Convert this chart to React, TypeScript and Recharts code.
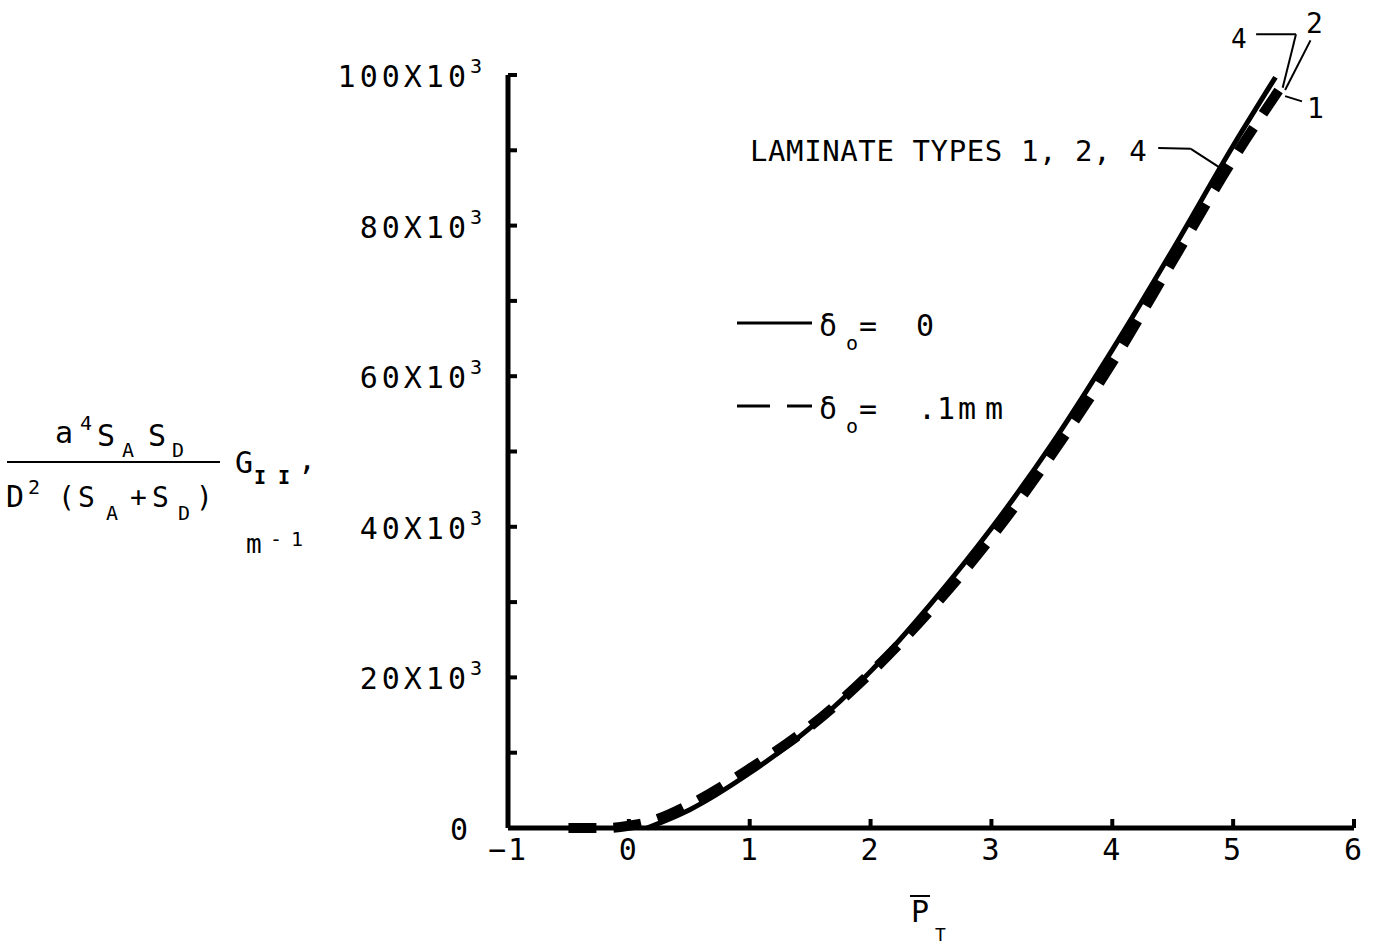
import { ComposedChart, Line, XAxis, YAxis, ReferenceLine } from "recharts";

// solid curve (delta_o = 0), laminate types 1, 2, 4
const solidX = [0.15, 0.5, 1, 1.5, 2, 2.5, 3, 3.5, 4, 4.5, 5, 5.35];
const solidY = [0, 2400, 7300, 13300, 20800, 29800, 39800, 51000, 63500, 76800, 90600, 99700];

// dashed curve (delta_o = .1mm)
const dashedX = [-0.5, -0.2, 0, 0.2, 0.5, 1, 1.5, 2, 2.5, 3, 3.5, 4, 4.5, 5, 5.4];
const dashedY = [0, 0, 300, 1000, 3100, 7900, 13500, 20600, 29000, 38600, 49600, 61800, 75300, 88800, 98500];

const xTicks = [-1, 0, 1, 2, 3, 4, 5, 6];
const yTicks = [0, 10000, 20000, 30000, 40000, 50000, 60000, 70000, 80000, 90000, 100000];
const yLabelTicks = [0, 20000, 40000, 60000, 80000, 100000];

// leader lines for the curve labels: [x1, y1, x2, y2]
const leaders = [
  [4.38, 90300, 4.65, 90200],
  [4.65, 90200, 4.88, 87800],
  [5.19, 105400, 5.52, 105400],
  [5.52, 105400, 5.41, 98300],
  [5.64, 104600, 5.43, 98000],
  [5.43, 97200, 5.57, 96500],
];

const solidData = solidX.map((x, i) => ({ x, y: solidY[i] }));
const dashedData = dashedX.map((x, i) => ({ x, y: dashedY[i] }));

const FONT = "DejaVu Sans Mono";

const YTick = (props: any) => {
  const { x, y, payload } = props;
  const v = payload.value;
  return (
    <g>
      <line x1={x} x2={x + 9} y1={y} y2={y} stroke="#000" strokeWidth={4} />
      {yLabelTicks.includes(v) &&
        (v === 0 ? (
          <text x={x - 40} y={y + 12} textAnchor="end" fontFamily={FONT} fontSize={30} fill="#000">
            0
          </text>
        ) : (
          <text x={x - 22} y={y + 12} textAnchor="end" fontFamily={FONT} fontSize={30} letterSpacing={4} fill="#000">
            {`${v / 1000}X10`}
            <tspan dy={-14} fontSize={20}>3</tspan>
          </text>
        ))}
    </g>
  );
};

const XTick = (props: any) => {
  const { x, y, payload } = props;
  const v = payload.value;
  return (
    <g>
      <line x1={x} x2={x} y1={y} y2={y - 9} stroke="#000" strokeWidth={4} />
      <text x={x} y={y + 32} textAnchor="middle" fontFamily={FONT} fontSize={30} letterSpacing={2} fill="#000">
        {v < 0 ? `\u2212${-v}` : `${v}`}
      </text>
    </g>
  );
};

export default function App() {
  return (
    <div style={{ position: "absolute", left: 0, top: 0, width: 1375, height: 946, background: "#fff" }}>
      <ComposedChart width={1375} height={946} margin={{ top: 75, right: 21, bottom: 88, left: 448 }}>
        <XAxis
          type="number"
          dataKey="x"
          domain={[-1, 6]}
          ticks={xTicks}
          allowDataOverflow
          height={30}
          tickSize={0}
          tickMargin={0}
          tickLine={false}
          axisLine={{ stroke: "#000", strokeWidth: 5 }}
          tick={(p: any) => <XTick {...p} />}
        />
        <YAxis
          type="number"
          domain={[0, 100000]}
          ticks={yTicks}
          width={60}
          tickSize={0}
          tickMargin={0}
          tickLine={false}
          axisLine={{ stroke: "#000", strokeWidth: 5 }}
          tick={(p: any) => <YTick {...p} />}
        />
        <Line
          data={dashedData}
          dataKey="y"
          type="monotone"
          stroke="#000"
          strokeWidth={10}
          strokeDasharray="28 17"
          dot={false}
          activeDot={false}
          isAnimationActive={false}
        />
        <Line
          data={solidData}
          dataKey="y"
          type="monotone"
          stroke="#000"
          strokeWidth={5}
          dot={false}
          activeDot={false}
          isAnimationActive={false}
        />
        {leaders.map((s, i) => (
          <ReferenceLine
            key={i}
            segment={[{ x: s[0], y: s[1] }, { x: s[2], y: s[3] }]}
            stroke="#000"
            strokeWidth={2}
            ifOverflow="visible"
          />
        ))}
      </ComposedChart>

      <svg width={1375} height={946} style={{ position: "absolute", left: 0, top: 0, pointerEvents: "none" }}>
        <g fontFamily={FONT} fill="#000">
          {/* y axis title */}
          <text fontSize={30}>
            <tspan x={55} y={443}>a</tspan>
            <tspan x={80} y={430} fontSize={20}>4</tspan>
            <tspan x={97} y={446}>S</tspan>
            <tspan x={122} y={457} fontSize={20}>A</tspan>
            <tspan x={148} y={446}>S</tspan>
            <tspan x={172} y={457} fontSize={20}>D</tspan>
          </text>
          <line x1={7} x2={220} y1={462} y2={462} stroke="#000" strokeWidth={2} />
          <text fontSize={30}>
            <tspan x={6} y={507}>D</tspan>
            <tspan x={28} y={494} fontSize={20}>2</tspan>
          </text>
          <text fontSize={28}>
            <tspan x={58} y={507}>(</tspan>
            <tspan x={78} y={507}>S</tspan>
            <tspan x={106} y={520} fontSize={20}>A</tspan>
            <tspan x={130} y={507}>+</tspan>
            <tspan x={152} y={507}>S</tspan>
            <tspan x={178} y={520} fontSize={20}>D</tspan>
            <tspan x={196} y={507}>)</tspan>
          </text>
          <text fontSize={30}>
            <tspan x={235} y={473}>G</tspan>
            <tspan x={254} y={484} fontSize={20} fontWeight="bold">I</tspan>
            <tspan x={278} y={484} fontSize={20} fontWeight="bold">I</tspan>
            <tspan x={298} y={470}>,</tspan>
          </text>
          <text fontSize={26}>
            <tspan x={246} y={553}>m</tspan>
            <tspan x={270} y={546} fontSize={20}>-</tspan>
            <tspan x={291} y={546} fontSize={20}>1</tspan>
          </text>

          {/* x axis title */}
          <line x1={910} x2={930} y1={896} y2={896} stroke="#000" strokeWidth={2} />
          <text x={911} y={922} fontSize={30}>P</text>
          <text x={935} y={941} fontSize={18}>T</text>

          {/* curve labels */}
          <text x={750} y={161} fontSize={29} letterSpacing={0.6}>LAMINATE TYPES 1, 2, 4</text>
          <text x={1231} y={48} fontSize={26}>4</text>
          <text x={1306} y={33} fontSize={28}>2</text>
          <text x={1307} y={118} fontSize={28}>1</text>

          {/* legend */}
          <line x1={737} x2={812} y1={323} y2={323} stroke="#000" strokeWidth={3} />
          <text fontSize={30}>
            <tspan x={819} y={336}>δ</tspan>
            <tspan x={846} y={350} fontSize={20}>o</tspan>
            <tspan x={859} y={336}>=</tspan>
            <tspan x={916} y={336}>0</tspan>
          </text>
          <line x1={737} x2={770} y1={406} y2={406} stroke="#000" strokeWidth={3} />
          <line x1={787} x2={812} y1={406} y2={406} stroke="#000" strokeWidth={3} />
          <text fontSize={30}>
            <tspan x={819} y={419}>δ</tspan>
            <tspan x={846} y={433} fontSize={20}>o</tspan>
            <tspan x={859} y={419}>=</tspan>
            <tspan x={918} y={419}>.</tspan>
            <tspan x={937} y={419}>1</tspan>
            <tspan x={958} y={419}>m</tspan>
            <tspan x={985} y={419}>m</tspan>
          </text>
        </g>
      </svg>
    </div>
  );
}
